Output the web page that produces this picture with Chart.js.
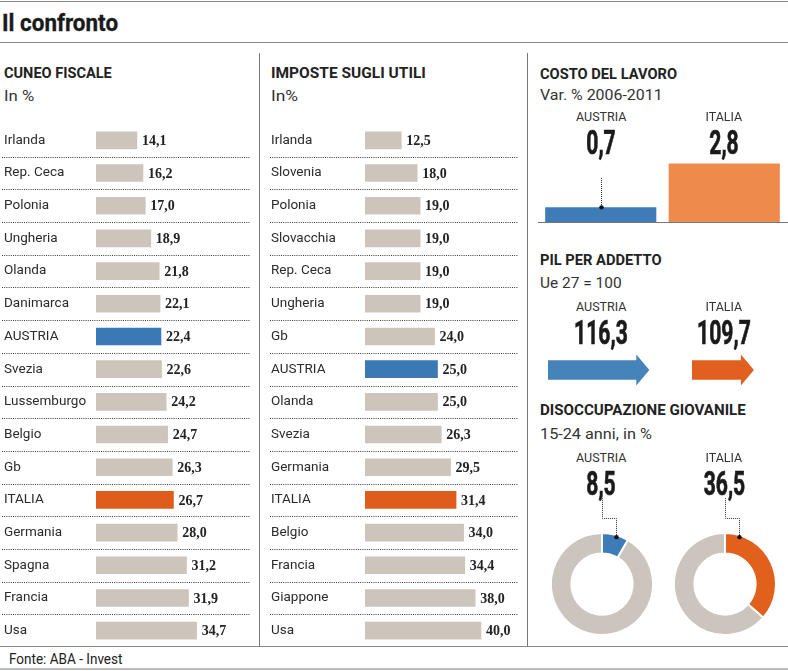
<!DOCTYPE html>
<html><head><meta charset="utf-8">
<script src="https://cdn.jsdelivr.net/npm/chart.js@4.4.0/dist/chart.umd.min.js"></script>
<style>
html,body{margin:0;padding:0;background:#fff;}
#root{position:relative;width:788px;height:671px;overflow:hidden;font-family:Roboto,sans-serif;color:#222;background:#fff;}
.t{position:absolute;white-space:nowrap;line-height:1.2;}
.ln{position:absolute;}
canvas{position:absolute;}
</style></head><body><div id="root"></div>
<script>
// ---------- DATA ----------
const cuneoCategories = ['Irlanda','Rep. Ceca','Polonia','Ungheria','Olanda','Danimarca','AUSTRIA','Svezia','Lussemburgo','Belgio','Gb','ITALIA','Germania','Spagna','Francia','Usa'];
const cuneoValues = [14.1,16.2,17.0,18.9,21.8,22.1,22.4,22.6,24.2,24.7,26.3,26.7,28.0,31.2,31.9,34.7];
const imposteCategories = ['Irlanda','Slovenia','Polonia','Slovacchia','Rep. Ceca','Ungheria','Gb','AUSTRIA','Olanda','Svezia','Germania','ITALIA','Belgio','Francia','Giappone','Usa'];
const imposteValues = [12.5,18.0,19.0,19.0,19.0,19.0,24.0,25.0,25.0,26.3,29.5,31.4,34.0,34.4,38.0,40.0];
const compareCountries = ['AUSTRIA','ITALIA'];
const costoLavoro = [0.7, 2.8];
const pilPerAddetto = [116.3, 109.7];
const pilBase = 100;
const disoccupazione = [8.5, 36.5];

// ---------- STYLE ----------
const GRAY='#cdc5bc', BLUE='#3b79b5', ORANGE='#e05c1c';
const COSTO_COLORS=['#3f7cb7','#ee8a4c'];
const ARROW_COLORS=['#4683bb','#e2601f'];
const DONUT_COLORS=['#3d7cb6','#e0601c'];
const DONUT_GRAY='#ccc5bd';
const fmt = v => v.toFixed(1).replace('.',',');

const root=document.getElementById('root');
function addText(str,o){
  const d=document.createElement('div');
  d.className='t'; d.textContent=str;
  d.style.font=`${o.weight||400} ${o.size||13}px ${o.family||'Roboto'}`;
  d.style.color=o.color||'#222';
  if(o.stroke) d.style.webkitTextStroke=o.stroke;
  root.appendChild(d);
  const w=d.offsetWidth, h=d.offsetHeight;
  const sx = o.width ? o.width/w : (o.scale||1);
  const center = o.align==='center';
  d.style.left=(center? o.x-w/2 : o.x)+'px';
  d.style.top=(o.y-h/2)+'px';
  d.style.transformOrigin=(center?'50%':'0%')+' 50%';
  d.style.transform=`scaleX(${sx})`;
}
function addLine(x,y,w,h,c){
  const d=document.createElement('div'); d.className='ln';
  Object.assign(d.style,{left:x+'px',top:y+'px',width:w+'px',height:h+'px',background:c});
  root.appendChild(d);
}
function makeCanvas(x,y,w,h){
  const c=document.createElement('canvas'); c.width=w; c.height=h;
  Object.assign(c.style,{left:x+'px',top:y+'px',width:w+'px',height:h+'px'});
  root.appendChild(c); return c;
}

Chart.defaults.font.family='Roboto';
Chart.defaults.animation=false;

// ---------- ROW BAR CHARTS ----------
const PX_PER_UNIT=2.9;
const colorFor = l => l==='AUSTRIA'?BLUE:(l==='ITALIA'?ORANGE:GRAY);
const rowPlugin={
  id:'rows',
  beforeDatasetsDraw(chart,args,opts){
    const ctx=chart.ctx, ys=chart.scales.y, labels=chart.data.labels, n=labels.length;
    ctx.save(); ctx.strokeStyle='#3a3a3a'; ctx.lineWidth=1; ctx.setLineDash([1,1.2]);
    for(let i=0;i<n-1;i++){
      const y=Math.round((ys.getPixelForTick(i)+ys.getPixelForTick(i+1))/2)+0.5;
      ctx.beginPath(); ctx.moveTo(opts.x0,y); ctx.lineTo(opts.x1,y); ctx.stroke();
    }
    ctx.setLineDash([]);
    ctx.font='13.5px Roboto'; ctx.fillStyle='#2b2b2b'; ctx.textAlign='left'; ctx.textBaseline='middle';
    labels.forEach((l,i)=>ctx.fillText(l, opts.lx, ys.getPixelForTick(i)));
    ctx.restore();
  },
  afterDatasetsDraw(chart){
    const ctx=chart.ctx, meta=chart.getDatasetMeta(0), data=chart.data.datasets[0].data;
    ctx.save(); ctx.font='bold 14px "Liberation Serif"'; ctx.fillStyle='#222';
    ctx.textBaseline='middle'; ctx.textAlign='left';
    meta.data.forEach((el,i)=>ctx.fillText(fmt(data[i]), el.x+5, el.y+1));
    ctx.restore();
  }
};
function rowChart(x,axisW,cats,vals,x0,x1){
  const W=260,H=523,PADL=4;
  const c=makeCanvas(x,124,W,H);
  new Chart(c,{type:'bar',
    data:{labels:cats,datasets:[{data:vals,backgroundColor:cats.map(colorFor),barThickness:17,borderWidth:0}]},
    options:{indexAxis:'y',responsive:false,animation:false,devicePixelRatio:1,
      layout:{autoPadding:false,padding:{left:PADL,right:0,top:0,bottom:0}},
      plugins:{legend:{display:false},tooltip:{enabled:false},rows:{x0,x1,lx:PADL}},
      scales:{
        x:{display:false,min:0,max:(W-PADL-axisW)/PX_PER_UNIT},
        y:{position:'left',offset:true,grid:{display:false},border:{display:false},
           ticks:{display:false},
           afterFit(s){s.width=axisW;}}
      }},
    plugins:[rowPlugin]});
}
rowChart(0,92,cuneoCategories,cuneoValues,2,250);
rowChart(267,94,imposteCategories,imposteValues,3,251);

// ---------- COSTO DEL LAVORO ----------
(function(){
  const c=makeCanvas(538,150,250,73);
  new Chart(c,{type:'bar',
    data:{labels:compareCountries,datasets:[{data:costoLavoro,backgroundColor:COSTO_COLORS,barPercentage:0.9,categoryPercentage:1,borderWidth:0}]},
    options:{responsive:false,animation:false,devicePixelRatio:1,
      layout:{autoPadding:false,padding:{left:1,right:2,top:5,bottom:1}},
      plugins:{legend:{display:false},tooltip:{enabled:false}},
      scales:{x:{display:false},y:{display:false,min:0,max:3.2}}},
    plugins:[{id:'costo',afterDatasetsDraw(chart){
      const ctx=chart.ctx, a=chart.chartArea;
      ctx.save();
      ctx.strokeStyle='#777'; ctx.lineWidth=1;
      ctx.beginPath(); ctx.moveTo(0,a.bottom+0.5); ctx.lineTo(chart.width,a.bottom+0.5); ctx.stroke();
      const topY=28;
      chart.getDatasetMeta(0).data.forEach(el=>{
        if(el.y-topY>12){
          const x=Math.round(el.x)+0.5;
          ctx.setLineDash([1,1]); ctx.strokeStyle='#333';
          ctx.beginPath(); ctx.moveTo(x,topY); ctx.lineTo(x,el.y); ctx.stroke();
          ctx.setLineDash([]); ctx.fillStyle='#111';
          ctx.beginPath(); ctx.arc(x,el.y,2.2,0,Math.PI*2); ctx.fill();
        }
      });
      ctx.restore();
    }}]});
})();

// ---------- PIL PER ADDETTO (arrows) ----------
const ARROW_PX=5.97;
const arrowPlugin={id:'arrow',afterDatasetsDraw(chart,args,opts){
  const ctx=chart.ctx; const el=chart.getDatasetMeta(0).data[0];
  const {x,y,base}=el; const hl=13, hh=15.5, sh=9.7;
  ctx.save(); ctx.fillStyle=opts.color;
  ctx.beginPath(); ctx.moveTo(base,y-sh); ctx.lineTo(x-hl,y-sh); ctx.lineTo(x-hl,y-hh);
  ctx.lineTo(x,y); ctx.lineTo(x-hl,y+hh); ctx.lineTo(x-hl,y+sh); ctx.lineTo(base,y+sh);
  ctx.closePath(); ctx.fill(); ctx.restore();
}};
[548,692].forEach((cx,i)=>{
  const W=120;
  const c=makeCanvas(cx,350,W,40);
  new Chart(c,{type:'bar',
    data:{labels:[compareCountries[i]],datasets:[{data:[pilPerAddetto[i]],backgroundColor:'rgba(0,0,0,0)',barThickness:19,borderWidth:0}]},
    options:{indexAxis:'y',responsive:false,animation:false,devicePixelRatio:1,
      layout:{autoPadding:false,padding:{left:4,right:0,top:0,bottom:0}},
      plugins:{legend:{display:false},tooltip:{enabled:false},arrow:{color:ARROW_COLORS[i]}},
      scales:{x:{display:false,min:pilBase,max:pilBase+(W-4)/ARROW_PX},y:{display:false}}},
    plugins:[arrowPlugin]});
});

// ---------- DISOCCUPAZIONE (donuts) ----------
const leaderPlugin={id:'leader',afterDatasetsDraw(chart){
  const ctx=chart.ctx, el=chart.getDatasetMeta(0).data[0];
  const a=17*Math.PI/180, r=el.outerRadius-2;
  const px=el.x+r*Math.sin(a), py=el.y-r*Math.cos(a);
  const X=Math.round(px)+0.5, cx=Math.round(el.x)+0.5, hy=23.5;
  ctx.save(); ctx.strokeStyle='#333'; ctx.lineWidth=1; ctx.setLineDash([1,1]);
  ctx.beginPath(); ctx.moveTo(X,py); ctx.lineTo(X,hy); ctx.lineTo(cx,hy); ctx.lineTo(cx,3); ctx.stroke();
  ctx.setLineDash([]); ctx.fillStyle='#111';
  ctx.beginPath(); ctx.arc(X,py,2.2,0,Math.PI*2); ctx.fill(); ctx.restore();
}};
[601.5,725].forEach((cx,i)=>{
  const c=makeCanvas(cx-62,495,124,152);
  new Chart(c,{type:'doughnut',
    data:{labels:[compareCountries[i],'altri'],datasets:[{data:[disoccupazione[i],100-disoccupazione[i]],backgroundColor:[DONUT_COLORS[i],DONUT_GRAY],borderColor:'#fff',borderWidth:2}]},
    options:{responsive:false,animation:false,devicePixelRatio:1,cutout:'60%',
      layout:{padding:{left:10,right:10,top:37,bottom:11}},
      plugins:{legend:{display:false},tooltip:{enabled:false}}},
    plugins:[leaderPlugin]});
});

// ---------- LINES ----------
addLine(0,1,788,1,'#888');
addLine(0,42,788,1,'#888');
addLine(259,53,1,594,'#777');
addLine(527,53,1,594,'#777');
addLine(0,646,788,1,'#888');
addLine(0,668,788,2,'#bbb');

// ---------- TEXT ----------
addText('Il confronto',{x:2,y:23.5,size:23,weight:700,width:116,color:'#1a1a1a',stroke:'0.3px #1a1a1a'});
const H={size:15.5,weight:700,color:'#222'};
addText('CUNEO FISCALE',{...H,x:4,y:73,width:108});
addText('IMPOSTE SUGLI UTILI',{...H,x:271,y:73,width:155});
addText('COSTO DEL LAVORO',{...H,x:540,y:74,width:137});
addText('PIL PER ADDETTO',{...H,x:540,y:260,width:122});
addText('DISOCCUPAZIONE GIOVANILE',{...H,x:540,y:410,width:206});
const S={size:14.5,weight:400,color:'#333'};
addText('In %',{...S,x:4,y:96.5,width:30});
addText('In%',{...S,x:271,y:96.5,width:27.6});
addText('Var. % 2006-2011',{...S,x:540,y:95.5,width:123});
addText('Ue 27 = 100',{...S,x:540,y:283,width:82});
addText('15-24 anni, in %',{...S,x:540,y:434,width:112});
const COLX=[601,724];
const sections=[{ly:116,ny:142,vals:costoLavoro},{ly:306,ny:332.5,vals:pilPerAddetto},{ly:457.5,ny:483.3,vals:disoccupazione}];
sections.forEach(s=>{
  compareCountries.forEach((name,i)=>{
    addText(name,{x:COLX[i],y:s.ly,size:12.5,weight:400,color:'#333',align:'center'});
    addText(fmt(s.vals[i]),{x:COLX[i],y:s.ny,size:33,weight:700,color:'#1a1a1a',align:'center',scale:0.64,stroke:'0.7px #1a1a1a'});
  });
});
addText('Fonte: ABA - Invest',{x:9,y:659,size:14,weight:400,color:'#222',width:113});
</script></body></html>
